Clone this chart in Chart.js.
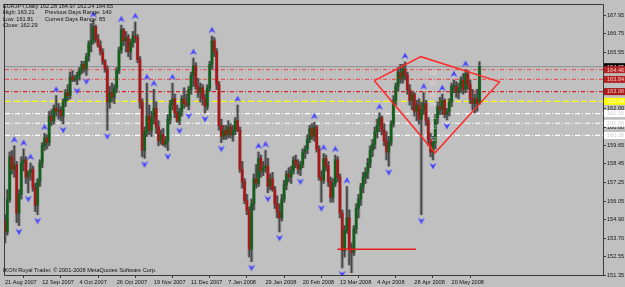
<!DOCTYPE html>
<html><head><meta charset="utf-8">
<script src="https://cdn.jsdelivr.net/npm/chart.js@4.4.0/dist/chart.umd.min.js"></script>
<style>html,body{margin:0;padding:0;background:#c0c0c0;overflow:hidden}#wrap{width:625px;height:287px;position:relative}</style>
</head><body><div id="wrap"><canvas id="c" width="625" height="287"></canvas></div>
<script>
// ---- data (EURJPY daily) ----
const openP = [154.8,154.1,156.2,158.9,158.1,158.4,155.3,156.5,158.5,158.7,157.6,157.9,158.1,156.9,155.8,157.3,158.5,159.6,160.1,159.8,
161.5,161.2,162.0,161.8,161.9,161.5,162.4,163.0,162.8,164.0,163.8,163.9,164.1,164.4,164.8,164.5,165.3,166.1,166.3,167.2,
166.4,166.0,165.6,165.0,164.5,162.4,163.0,162.7,163.3,164.4,165.7,167.0,166.3,166.5,165.6,166.2,166.6,166.5,165.1,162.4,
159.3,160.5,161.5,160.6,161.4,162.0,160.8,159.9,160.3,159.7,159.9,161.3,162.2,162.6,161.7,161.2,161.8,162.6,162.3,162.2,
163.2,164.1,164.7,163.4,163.0,163.3,162.6,162.1,163.3,164.8,166.3,165.6,163.5,160.9,160.2,160.6,160.3,160.8,160.3,160.6,
161.2,160.6,158.1,157.3,156.1,155.5,153.0,155.9,157.5,157.2,158.8,158.0,158.2,158.3,157.0,157.5,156.8,155.9,155.4,155.0,
156.2,157.1,157.8,157.6,158.0,158.7,158.4,158.1,158.4,159.2,159.4,160.0,160.7,160.2,160.8,159.4,157.6,157.4,158.8,158.3,
157.3,156.3,157.2,158.7,157.6,155.3,152.9,154.2,155.0,153.0,152.8,154.3,155.6,156.2,157.0,157.6,157.9,158.5,159.3,159.7,
160.5,160.9,161.4,160.6,159.9,159.2,159.8,161.0,162.5,163.4,164.3,163.9,164.5,164.1,163.2,162.5,162.9,161.8,162.2,161.3,
161.9,162.3,161.2,160.0,159.2,159.8,161.4,162.1,161.9,162.5,161.6,161.8,162.4,163.4,163.4,163.0,163.3,163.8,163.2,164.2,
163.5,162.6,162.3,162.6,162.28];
const highP = [155.2,156.8,159.2,159.3,159.6,158.6,156.8,158.9,159.4,158.9,158.0,158.5,158.3,157.2,157.5,158.7,159.8,160.4,160.3,161.8,
161.9,162.2,162.8,162.3,162.1,162.6,163.2,163.5,164.3,164.4,164.1,164.3,164.6,165.0,165.0,165.5,166.3,167.4,167.6,167.3,
166.7,166.3,165.8,165.1,164.7,163.4,163.6,163.5,164.6,165.9,167.3,167.1,166.9,166.7,166.4,166.9,167.5,166.7,165.3,162.6,
160.8,163.6,162.2,161.8,163.2,162.4,161.2,160.6,160.7,160.2,161.6,162.5,163.6,162.9,162.2,162.0,162.8,163.3,162.9,163.4,
164.3,165.2,164.9,163.9,163.6,163.5,162.9,163.5,165.0,166.6,166.5,165.8,163.7,161.3,160.9,160.9,161.2,161.0,160.9,161.4,
162.2,160.8,158.6,157.5,156.5,155.7,156.2,157.8,158.4,159.2,159.0,158.6,159.3,158.8,157.8,157.9,157.0,156.4,155.9,156.5,
157.4,158.0,158.2,158.3,158.9,159.0,158.7,158.6,159.4,159.6,160.3,160.9,161.0,161.1,160.9,159.6,158.0,159.1,159.0,158.6,
157.6,157.5,159.0,158.9,157.8,155.5,154.5,157.0,155.5,153.4,154.5,155.9,156.5,157.2,157.9,158.2,158.8,159.6,160.0,160.8,
161.3,161.7,161.5,161.0,160.5,160.2,161.2,162.8,163.6,164.6,164.8,164.8,164.95,164.3,163.5,163.1,163.0,162.5,162.6,162.4,
163.0,162.5,161.4,160.4,160.2,161.6,162.4,162.7,162.9,162.6,162.0,162.6,163.6,163.8,163.7,163.6,164.0,164.2,164.45,164.4,
163.8,163.2,162.9,163.21,164.97];
const lowP = [153.4,153.9,156.0,157.8,157.6,154.7,154.5,156.2,158.0,157.2,156.6,157.4,156.7,155.4,155.2,157.0,158.2,159.3,159.4,159.6,
160.9,161.0,161.5,161.3,161.2,161.0,162.1,162.5,162.6,163.7,163.7,163.5,163.8,164.2,164.3,164.1,165.0,165.6,166.1,166.2,
165.9,165.4,164.8,164.3,160.6,162.0,162.4,162.3,163.0,164.2,165.5,166.0,165.6,165.3,165.1,165.9,166.2,164.9,162.0,158.9,
158.8,160.2,160.3,160.2,161.0,160.4,159.6,159.7,159.6,159.5,159.3,161.0,161.9,161.4,161.1,160.95,161.5,162.0,162.1,161.9,
162.9,163.4,163.2,162.7,162.4,162.2,161.7,161.9,163.1,164.5,165.3,163.2,160.6,159.8,160.0,160.0,160.1,160.1,159.9,160.3,
160.5,157.9,156.9,155.9,155.2,152.5,152.2,155.5,156.9,157.0,157.6,157.7,157.9,156.6,156.8,156.7,155.6,155.0,154.1,154.8,
156.0,156.8,157.3,157.2,157.8,158.2,157.8,157.7,158.2,158.8,159.1,159.8,160.0,159.9,159.2,157.4,156.0,157.2,158.0,157.0,
156.0,156.0,157.0,157.3,155.0,151.8,152.5,154.0,152.0,151.5,152.6,154.0,155.0,155.8,156.6,157.2,157.5,158.2,158.9,159.4,
160.1,160.5,160.3,159.6,158.7,158.3,159.6,160.8,162.2,163.1,163.6,163.6,163.8,162.9,162.2,161.9,161.5,161.2,161.0,155.2,
161.6,160.9,159.6,158.9,158.7,159.4,161.0,161.6,161.6,161.4,161.25,161.5,162.1,163.0,162.7,162.6,163.0,162.9,163.0,163.2,
162.3,161.9,161.7,161.81,162.24];
const closeP = [154.1,156.2,158.9,158.1,158.4,155.3,156.5,158.5,158.7,157.6,157.9,158.1,156.9,155.8,157.3,158.5,159.6,160.1,159.8,161.5,
161.2,162.0,161.8,161.9,161.5,162.4,163.0,162.8,164.0,163.8,163.9,164.1,164.4,164.8,164.5,165.3,166.1,166.3,167.2,166.4,
166.0,165.6,165.0,164.5,162.4,163.0,162.7,163.3,164.4,165.7,167.0,166.3,166.5,165.6,166.2,166.6,166.5,165.1,162.4,159.3,
160.5,161.5,160.6,161.4,162.0,160.8,159.9,160.3,159.7,159.9,161.3,162.2,162.6,161.7,161.2,161.8,162.6,162.3,162.2,163.2,
164.1,164.7,163.4,163.0,163.3,162.6,162.1,163.3,164.8,166.3,165.6,163.5,160.9,160.2,160.6,160.3,160.8,160.3,160.6,161.2,
160.6,158.1,157.3,156.1,155.5,153.0,155.9,157.5,157.2,158.8,158.0,158.2,158.3,157.0,157.5,156.8,155.9,155.4,155.0,156.2,
157.1,157.8,157.6,158.0,158.7,158.4,158.1,158.4,159.2,159.4,160.0,160.7,160.2,160.8,159.4,157.6,157.4,158.8,158.3,157.3,
156.3,157.2,158.7,157.6,155.3,152.9,154.2,155.0,153.0,152.8,154.3,155.6,156.2,157.0,157.6,157.9,158.5,159.3,159.7,160.5,
160.9,161.4,160.6,159.9,159.2,159.8,161.0,162.5,163.4,164.3,163.9,164.5,164.1,163.2,162.5,162.9,161.8,162.2,161.3,161.9,
162.3,161.2,160.0,159.2,159.8,161.4,162.1,161.9,162.5,161.6,161.8,162.4,163.4,163.4,163.0,163.3,163.8,163.2,164.2,163.5,
162.6,162.3,162.6,162.29,164.65];
const upFractalIdx = [4,8,11,17,22,38,50,56,61,64,72,81,89,100,109,112,133,137,142,147,161,172,180,188,193,198];
const downFractalIdx = [6,10,14,25,31,35,44,60,70,75,79,86,93,106,113,118,127,136,145,149,165,179,184,190];
const dateTickIdx = [0,16,32,48,64,80,96,112,128,144,160,176,192];
const dateTickLabels = ['21 Aug 2007','12 Sep 2007','4 Oct 2007','26 Oct 2007','19 Nov 2007','11 Dec 2007','7 Jan 2008','29 Jan 2008','20 Feb 2008','13 Mar 2008','4 Apr 2008','28 Apr 2008','20 May 2008'];
const priceTicks = [151.35,152.55,153.70,154.90,156.05,157.25,158.45,159.65,160.80,162.00,163.15,164.35,165.55,166.75,167.95];
const pivotNames = ['R3','R2','R1','PP','S1','S2','S3'];
const pivotValues = [164.46,163.84,163.06,162.44,161.66,161.04,160.26];
const currentPrice = 164.65;
const diamondIdx = [158.8,178.8,212.6,184.9,158.8];
const diamondVal = [163.76,165.29,163.68,159.15,163.76];
const supportIdx = [142.9,176.7];
const supportVal = [152.99,152.99];
const headerLeft = ['EURJPY,Daily 162.28 164.97 162.24 164.65','High: 163.21','Low: 161.81','Close: 162.29'];
const headerRight = ['','Previous Days Range: 140','Current Days Range: 85',''];
const footerText = 'IKON Royal Trader, \u00A9 2001-2008 MetaQuotes Software Corp.';

// ---- styling ----
const X_MIN = 0, X_MAX = 257.1, Y_MIN = 151.35, Y_MAX = 168.59;
const FONT = '"Liberation Sans", Arial, sans-serif';
const pivotStyles = [
  {c:'#e25a5a', w:1.3, d:[4,2,1,2], box:'#b42222', txt:'#f2c8c8'},
  {c:'#e25a5a', w:1.3, d:[4,2,1,2], box:'#b42222', txt:'#f2c8c8'},
  {c:'#d42424', w:1.3, d:[4,2,1,2], box:'#a81a1a', txt:'#f2c8c8'},
  {c:'#ffff00', w:1.2, d:[6,3], box:'#ffff00', txt:'#fafad0'},
  {c:'#ffffff', w:1.2, d:[5,2,1,2], box:'#ffffff', txt:'#cfcfcf'},
  {c:'#ffffff', w:1.2, d:[5,2,1,2], box:'#ffffff', txt:'#cfcfcf'},
  {c:'#ffffff', w:1.2, d:[5,2,1,2], box:'#ffffff', txt:'#cfcfcf'}
];

function makeArrow(up) {
  const c = document.createElement('canvas');
  c.width = 8; c.height = 20;
  const g = c.getContext('2d');
  g.fillStyle = '#4646ff';
  g.beginPath();
  if (up) { g.moveTo(4,0.5); g.lineTo(7.5,7); g.lineTo(4,5); g.lineTo(0.5,7); }
  else { g.moveTo(4,19.5); g.lineTo(7.5,13); g.lineTo(4,15); g.lineTo(0.5,13); }
  g.closePath(); g.fill();
  return c;
}

const idx = openP.map((_, i) => i);
const wickData = idx.map(i => ({x: i, y: [lowP[i], highP[i]]}));
const bodyData = idx.map(i => ({x: i, y: [openP[i], closeP[i]]}));
const bodyColors = idx.map(i => closeP[i] >= openP[i] ? '#11601a' : '#a81818');

const lineDatasets = [{
  type: 'line', data: [{x: X_MIN, y: currentPrice}, {x: X_MAX, y: currentPrice}],
  borderColor: '#989898', borderWidth: 1.2, pointRadius: 0, order: 20
}].concat(pivotValues.map((v, k) => ({
  type: 'line', data: [{x: X_MIN, y: v}, {x: X_MAX, y: v}],
  borderColor: pivotStyles[k].c, borderDash: pivotStyles[k].d, borderWidth: pivotStyles[k].w, pointRadius: 0, order: 19
})));

const chrome = {
  id: 'chrome',
  beforeDraw(chart) {
    const g = chart.ctx;
    g.save(); g.fillStyle = '#c0c0c0'; g.fillRect(0, 0, chart.width, chart.height); g.restore();
  },
  afterDraw(chart) {
    const g = chart.ctx, a = chart.chartArea, xs = chart.scales.x, ys = chart.scales.y;
    g.save();
    g.strokeStyle = '#3c3c3c'; g.lineWidth = 1;
    g.strokeRect(a.left - 0.5, a.top - 0.5, a.right - a.left + 1, a.bottom - a.top + 1);
    // price boxes on the axis
    g.font = '5.6px ' + FONT; g.textBaseline = 'middle'; g.textAlign = 'left';
    const boxes = [{v: currentPrice, box: '#000000', txt: '#ffffff'}].concat(pivotValues.map((v, k) => ({v, box: pivotStyles[k].box, txt: pivotStyles[k].txt})));
    boxes.forEach(b => {
      const py = ys.getPixelForValue(b.v);
      g.fillStyle = b.box; g.fillRect(a.right + 1, py - 3.5, 22, 7);
      g.fillStyle = b.txt; g.fillText(b.v.toFixed(2), a.right + 4, py + 0.3);
    });
    // pivot names inside the plot
    g.font = '5.4px ' + FONT;
    pivotNames.forEach((n, k) => {
      g.fillStyle = k < 3 ? 'rgba(245,215,215,0.7)' : 'rgba(245,245,245,0.6)';
      g.fillText(n, xs.getPixelForValue(182.7), ys.getPixelForValue(pivotValues[k]) + 4);
    });
    // header and footer texts
    g.fillStyle = '#101010'; g.font = '5.6px ' + FONT;
    headerLeft.forEach((t, k) => g.fillText(t, 3, 6 + k * 6.6));
    headerRight.forEach((t, k) => { if (t) g.fillText(t, 45, 6 + k * 6.6); });
    g.fillText(footerText, 3, 270.5);
    g.restore();
  }
};

new Chart(document.getElementById('c'), {
  type: 'bar',
  data: {
    datasets: [
      {type: 'bar', data: wickData, backgroundColor: 'rgba(105,105,105,0.45)', barThickness: 3, grouped: false, order: 7},
      {type: 'bar', data: wickData, backgroundColor: '#454545', barThickness: 1, grouped: false, order: 6},
      {type: 'bar', data: bodyData, backgroundColor: bodyColors, barThickness: 2, minBarLength: 1, grouped: false, order: 5},
      {type: 'line', data: diamondIdx.map((x, k) => ({x, y: diamondVal[k]})), borderColor: '#ff2a2a', borderWidth: 1.5, pointRadius: 0, tension: 0, order: 3},
      {type: 'line', data: supportIdx.map((x, k) => ({x, y: supportVal[k]})), borderColor: '#e81c1c', borderWidth: 1.5, pointRadius: 0, order: 3},
      {type: 'line', showLine: false, data: upFractalIdx.map(i => ({x: i, y: highP[i]})), pointStyle: makeArrow(true), pointRadius: 4, order: 1},
      {type: 'line', showLine: false, data: downFractalIdx.map(i => ({x: i, y: lowP[i]})), pointStyle: makeArrow(false), pointRadius: 4, order: 1}
    ].concat(lineDatasets)
  },
  options: {
    responsive: false, animation: false, devicePixelRatio: 1,
    layout: {padding: {left: 2, top: 1, right: 0, bottom: 0}},
    plugins: {legend: {display: false}, tooltip: {enabled: false}},
    scales: {
      x: {
        type: 'linear', min: X_MIN, max: X_MAX, offset: false,
        afterBuildTicks: s => { s.ticks = dateTickIdx.map(v => ({value: v})); },
        afterFit: s => { s.height = 12; s.paddingLeft = 0; s.paddingRight = 0; },
        grid: {drawOnChartArea: false, drawTicks: true, tickLength: 3, tickColor: '#3c3c3c'},
        border: {display: true, color: '#3c3c3c'},
        ticks: {autoSkip: false, maxRotation: 0, minRotation: 0, align: 'start', padding: 1,
          color: '#141414', font: {family: FONT, size: 5.6},
          callback: (v, i) => dateTickLabels[i]}
      },
      y: {
        type: 'linear', position: 'right', min: Y_MIN, max: Y_MAX,
        afterBuildTicks: s => { s.ticks = priceTicks.map(v => ({value: v})); },
        afterFit: s => { s.width = 22; s.paddingTop = 0; s.paddingBottom = 0; },
        grid: {drawOnChartArea: false, drawTicks: true, tickLength: 3, tickColor: '#3c3c3c'},
        border: {display: true, color: '#3c3c3c'},
        ticks: {autoSkip: false, padding: 1, crossAlign: 'near', color: '#141414',
          font: {family: FONT, size: 5.6}, callback: v => v.toFixed(2)}
      }
    }
  },
  plugins: [chrome]
});
</script>
</body></html>
